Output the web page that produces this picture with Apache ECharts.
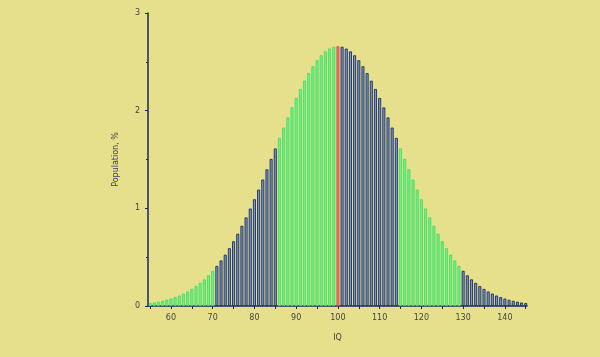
<!DOCTYPE html>
<html><head><meta charset="utf-8">
<script src="https://cdn.jsdelivr.net/npm/echarts@6/dist/echarts.min.js"></script>
<style>html,body{margin:0;padding:0;background:#e6df8c}#c{width:600px;height:357px}</style>
</head><body><div id="c"></div>
<script>
// IQ score of each bar
const iqScores = [55,56,57,58,59,60,61,62,63,64,65,66,67,68,69,70,71,72,73,74,75,76,77,78,79,80,81,82,83,84,85,86,87,88,89,90,91,92,93,94,95,96,97,98,99,100,101,102,103,104,105,106,107,108,109,110,111,112,113,114,115,116,117,118,119,120,121,122,123,124,125,126,127,128,129,130,131,132,133,134,135,136,137,138,139,140,141,142,143,144,145];
// Population share (%) of each bar
const population = [0.030,0.036,0.044,0.053,0.064,0.076,0.091,0.107,0.127,0.149,0.175,0.204,0.237,0.273,0.314,0.360,0.410,0.466,0.526,0.592,0.663,0.740,0.821,0.907,0.998,1.093,1.192,1.295,1.399,1.506,1.613,1.721,1.827,1.931,2.033,2.130,2.222,2.307,2.385,2.455,2.516,2.567,2.607,2.636,2.654,2.660,2.654,2.636,2.607,2.567,2.516,2.455,2.385,2.307,2.222,2.130,2.033,1.931,1.827,1.721,1.613,1.506,1.399,1.295,1.192,1.093,0.998,0.907,0.821,0.740,0.663,0.592,0.526,0.466,0.410,0.360,0.314,0.273,0.237,0.204,0.175,0.149,0.127,0.107,0.091,0.076,0.064,0.053,0.044,0.036,0.030];
// Colour bands: [from IQ, to IQ, kind]
const bandFrom = [55, 71, 86, 100, 101, 115, 130];
const bandTo   = [70, 85, 99, 100, 114, 129, 145];
const bandKind = ['green','dark','green','red','dark','green','dark'];
// Axis ticks
const xTickLabels = [60,70,80,90,100,110,120,130,140];
const xTicks = [55,60,65,70,75,80,85,90,95,100,105,110,115,120,125,130,135,140,145];
const yTicks = [0,1,2,3];

const styles = {
  green: {color:'#72ee8a', borderColor:'#3fdc60', borderWidth:0.8},
  dark:  {color:'#7d9cc6', borderColor:'#1b2a66', borderWidth:0.9},
  red:   {color:'#e8706a', borderColor:'#d85550', borderWidth:0.8}
};
function kindOf(x){
  for (let i=0;i<bandFrom.length;i++) if (x>=bandFrom[i] && x<=bandTo[i]) return bandKind[i];
  return 'green';
}
const data = iqScores.map((x,i)=>({value:[x,population[i]], itemStyle:styles[kindOf(x)]}));

const axisCol = '#1b2660';
const chart = echarts.init(document.getElementById('c'));
chart.setOption({
  backgroundColor:'#e6df8c',
  animation:false,
  grid:{left:148,right:73,top:13,bottom:51},
  xAxis:{
    type:'value', min:54.5, max:145.3,
    name:'IQ', nameLocation:'middle', nameGap:28,
    nameTextStyle:{fontSize:8,color:'#444',fontFamily:'DejaVu Sans'},
    axisLine:{lineStyle:{color:axisCol,width:1.5}},
    axisTick:{customValues:xTicks,length:3,lineStyle:{color:axisCol}},
    axisLabel:{customValues:xTickLabels,fontSize:8,color:'#444',margin:8,fontFamily:'DejaVu Sans'},
    splitLine:{show:false}
  },
  yAxis:{
    type:'value', min:0, max:3, interval:1,
    name:'Population, %', nameLocation:'middle', nameGap:28, nameRotate:90,
    nameTextStyle:{fontSize:8,color:'#444',fontFamily:'DejaVu Sans'},
    axisLine:{show:true,lineStyle:{color:axisCol,width:1.5}},
    axisTick:{show:true,length:3,lineStyle:{color:axisCol}},
    minorTick:{show:true,splitNumber:2,length:2,lineStyle:{color:axisCol}},
    axisLabel:{fontSize:8,color:'#444',margin:8,fontFamily:'DejaVu Sans'},
    splitLine:{show:false}
  },
  series:[{type:'bar',data:data,barWidth:3,z:1}]
});
</script></body></html>
